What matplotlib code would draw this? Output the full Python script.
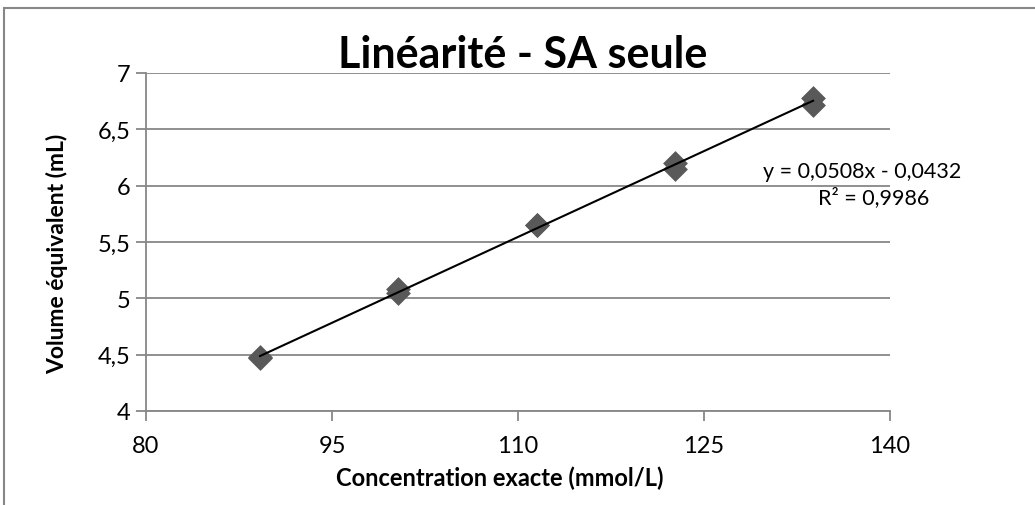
import numpy as np
import matplotlib
import matplotlib.pyplot as plt

plt.rcParams['font.family'] = ['Lato', 'DejaVu Sans']

# concentrations (mmol/L), two titrations per level
conc = [89.2, 89.2, 100.35, 100.35, 111.5, 111.5, 122.65, 122.65, 133.8, 133.8]
volume = [4.47, 4.48, 5.05, 5.08, 5.65, 5.65, 6.15, 6.20, 6.72, 6.78]

# excel trendline
slope = 0.0508
intercept = -0.0432
r2 = 0.9986

xticks = [80, 95, 110, 125, 140]
yticks = [4, 4.5, 5, 5.5, 6, 6.5, 7]

grid_col = '#878787'

fig = plt.figure(figsize=(10.35, 5.06), dpi=100)
ax = fig.add_axes([146/1035, 1-412/506, (890-146)/1035, (412-74)/506])

# outer chart frame (cropped)
frame = matplotlib.patches.Rectangle((4/1035, -0.1), 1.2, 1-9/506+0.1, transform=fig.transFigure,
                                     fill=False, edgecolor=grid_col, linewidth=1.5)
fig.patches.append(frame)

ax.scatter(conc, volume, marker='D', s=160, color='#595959', zorder=3, linewidths=0)
xl = np.array([min(conc), max(conc)])
ax.plot(xl, slope*xl + intercept, color='black', linewidth=1.5, zorder=4)

ax.set_xlim(80, 140)
ax.set_ylim(4, 7)
ax.set_xticks(xticks)
ax.set_yticks(yticks)
ax.set_yticklabels([str(v).replace('.', ',') for v in yticks])
ax.yaxis.grid(True, color=grid_col, linewidth=1.3)
ax.set_axisbelow(True)
for s in ['top', 'right']:
    ax.spines[s].set_visible(False)
for s in ['left', 'bottom']:
    ax.spines[s].set_color(grid_col)
    ax.spines[s].set_linewidth(1.3)
ax.tick_params(axis='both', direction='out', length=7, width=1.3, color=grid_col, labelsize=17, pad=4)
ax.tick_params(axis='x', pad=10)

ax.set_xlabel('Concentration exacte (mmol/L)', fontsize=17, fontweight='bold')
ax.set_ylabel('Volume équivalent (mL)', fontsize=16.5, fontweight='bold')
ax.xaxis.set_label_coords(0.476, -0.16)
ax.yaxis.set_label_coords(-0.105, 0.467)
fig.text(0.505, 1-55/506, 'Linéarité - SA seule', fontsize=31, fontweight='bold', ha='center', va='center')

eq = 'y = {:.4f}x - {:.4f}'.format(slope, -intercept).replace('.', ',')
fig.text(862/1035, 1-172/506, eq, fontsize=15.5, ha='center', va='center')
fig.text(874/1035, 1-198/506, 'R² = {:.4f}'.format(r2).replace('.', ','), fontsize=15.5, ha='center', va='center')

fig.savefig('out.png', dpi=100)
